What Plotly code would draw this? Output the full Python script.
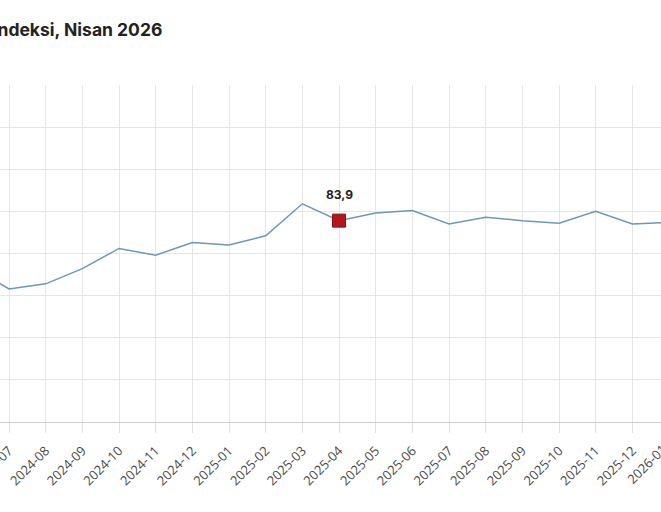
import plotly.graph_objects as go

# ---- data ----
months = ["2024-06", "2024-07", "2024-08", "2024-09", "2024-10", "2024-11",
          "2024-12", "2025-01", "2025-02", "2025-03", "2025-04", "2025-05",
          "2025-06", "2025-07", "2025-08", "2025-09", "2025-10", "2025-11",
          "2025-12", "2026-01"]
values = [78.3, 75.8, 76.4, 78.2, 80.6, 79.8, 81.3, 81.0, 82.1, 85.9,
          83.9, 84.8, 85.1, 83.5, 84.3, 83.9, 83.6, 85.0, 83.5, 83.7]
highlight_month = "2025-04"
highlight_value = 83.9
highlight_label = "83,9"
offscreen_tick_label = "2026-01"
title_text = "Tüketici Güven Endeksi, Nisan 2026"
y_ticks = [60, 65, 70, 75, 80, 85, 90, 95, 100]

W, H = 661, 512
ML, MR, MT, MB = 0, 0, 85, 90
plot_h = H - MT - MB

fig = go.Figure()
fig.add_trace(go.Scatter(
    x=months, y=values, mode="lines",
    line=dict(color="#6a98b8", width=1.5),
    hoverinfo="x+y", showlegend=False,
))
fig.add_trace(go.Scatter(
    x=[highlight_month], y=[highlight_value], mode="markers",
    marker=dict(symbol="square", size=13, color="#b3161d",
                line=dict(color="#8e1016", width=1)),
    showlegend=False,
))

fig.add_annotation(
    x=highlight_month, y=highlight_value, xref="x", yref="y",
    text=highlight_label, showarrow=False, yshift=26,
    font=dict(family="Inter, Roboto, sans-serif", size=12, color="#222222", weight="bold"),
)

# title (left part runs off the visible page)
fig.add_annotation(
    x=164 / W, y=1 + (MT - 29.5) / plot_h, xref="paper", yref="paper",
    xanchor="right", yanchor="middle", showarrow=False,
    text=title_text,
    font=dict(family="Inter, Roboto, sans-serif", size=17.5, color="#222222", weight="bold"),
)

# tick label for the month just past the right edge
fig.add_annotation(
    x=673 / W, y=-(437 - (H - MB)) / plot_h, xref="paper", yref="paper",
    xanchor="right", yanchor="top", showarrow=False, textangle=-45,
    text=offscreen_tick_label,
    font=dict(family="Open Sans, sans-serif", size=13, color="#4a4a4a"),
)

fig.update_layout(
    width=W, height=H, autosize=False,
    margin=dict(l=ML, r=MR, t=MT, b=MB, pad=0, autoexpand=False),
    paper_bgcolor="white", plot_bgcolor="white",
    font=dict(family="Open Sans, sans-serif", color="#4a4a4a"),
)
fig.update_xaxes(
    type="category", categoryorder="array", categoryarray=months,
    range=[1 - 9 / 36.67, 1 + 652 / 36.67], automargin=False,
    tickangle=-45, tickfont=dict(size=13, color="#4a4a4a"),
    ticklabelstandoff=5,
    showgrid=True, gridcolor="#e6e6e6", gridwidth=1,
    showline=True, linecolor="#cccccc", linewidth=1,
    ticks="outside", ticklen=10, tickcolor="#e0e0e0",
)
fig.update_yaxes(
    range=[60, 100], tickvals=y_ticks, showticklabels=False, automargin=False,
    showgrid=True, gridcolor="#e6e6e6", gridwidth=1,
    zeroline=False, showline=False,
)

fig.write_html("out.html", config={"displayModeBar": False},
               post_script="document.body.style.margin='0';")
